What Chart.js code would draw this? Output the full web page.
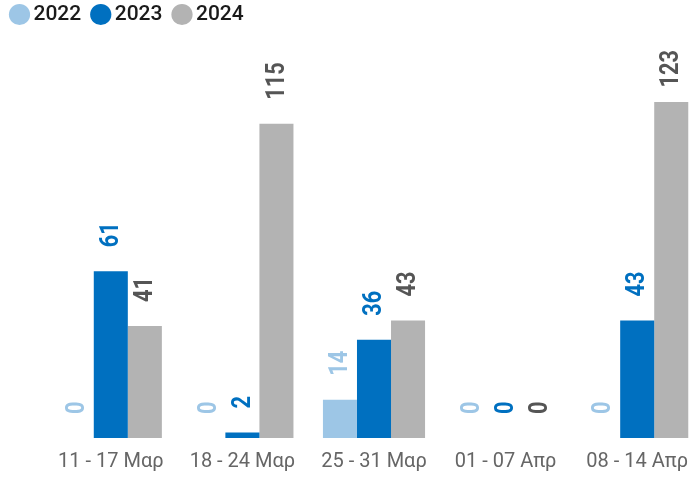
<!DOCTYPE html>
<html>
<head>
<meta charset="utf-8">
<script src="https://cdn.jsdelivr.net/npm/chart.js@4.4.1/dist/chart.umd.min.js"></script>
<style>
  html, body { margin: 0; padding: 0; background: #fff; overflow: hidden; }
  #clip { width: 691px; height: 477px; overflow: hidden; position: relative; }
  #wrap { width: 703px; height: 477px; position: absolute; left: 0; top: 0; }
</style>
</head>
<body>
<div id="clip"><div id="wrap"><canvas id="weeksChart"></canvas></div></div>
<script>
// weekly values per year
const weeks = ['11 - 17 Μαρ', '18 - 24 Μαρ', '25 - 31 Μαρ', '01 - 07 Απρ', '08 - 14 Απρ'];
const years = ['2022', '2023', '2024'];
const values2022 = [0, 0, 14, 0, 0];
const values2023 = [61, 2, 36, 0, 43];
const values2024 = [41, 115, 43, 0, 123];

const barColors = ['#9DC6E6', '#0070C0', '#B3B3B3'];
const labelColors = ['#9DC6E6', '#0070C0', '#555555'];

// draws the rotated value above every bar (narrowed a bit)
const valueLabels = {
  id: 'valueLabels',
  afterDatasetsDraw(chart) {
    const ctx = chart.ctx;
    const squeeze = 0.87;
    chart.data.datasets.forEach((ds, i) => {
      const meta = chart.getDatasetMeta(i);
      meta.data.forEach((bar, j) => {
        const text = String(ds.data[j]);
        ctx.save();
        ctx.font = 'bold 25px Roboto, sans-serif';
        const w = ctx.measureText(text).width * squeeze;
        let yBottom = bar.y - 24;
        if (yBottom - w < 50) yBottom = 50 + w;
        ctx.translate(bar.x, yBottom);
        ctx.rotate(-Math.PI / 2);
        ctx.scale(squeeze, 1);
        ctx.fillStyle = labelColors[i];
        ctx.textAlign = 'left';
        ctx.textBaseline = 'middle';
        ctx.fillText(text, 0, 1);
        ctx.restore();
      });
    });
  }
};

const renderChart = () => {
  const ctx = document.getElementById('weeksChart').getContext('2d');
  new Chart(ctx, {
    type: 'bar',
    data: {
      labels: weeks,
      datasets: [values2022, values2023, values2024].map((vals, i) => ({
        label: years[i],
        data: vals,
        backgroundColor: barColors[i],
        borderWidth: 0,
        categoryPercentage: 0.776,
        barPercentage: 1,
      })),
    },
    options: {
      responsive: true,
      maintainAspectRatio: false,
      animation: false,
      layout: { padding: { top: -12, bottom: -9 } },
      plugins: {
        tooltip: { enabled: false },
        legend: {
          position: 'top',
          align: 'start',
          labels: {
            usePointStyle: true,
            pointStyle: 'circle',
            boxWidth: 7,
            boxHeight: 15,
            padding: 16,
            color: '#1a1a1a',
            font: { family: 'Roboto', size: 21, weight: '500' },
          },
        },
      },
      scales: {
        x: {
          grid: { display: false, drawTicks: false },
          border: { display: false },
          ticks: {
            color: '#666',
            padding: 12,
            font: { family: 'Roboto', size: 20 },
            maxRotation: 0,
            autoSkip: false,
          },
        },
        y: {
          min: 0,
          max: 147.5,
          grid: { display: false, drawTicks: false },
          border: { display: false },
          ticks: { display: false },
          afterFit(scale) { scale.width = 45; },
        },
      },
    },
    plugins: [valueLabels],
  });
};

renderChart();
</script>
</body>
</html>
